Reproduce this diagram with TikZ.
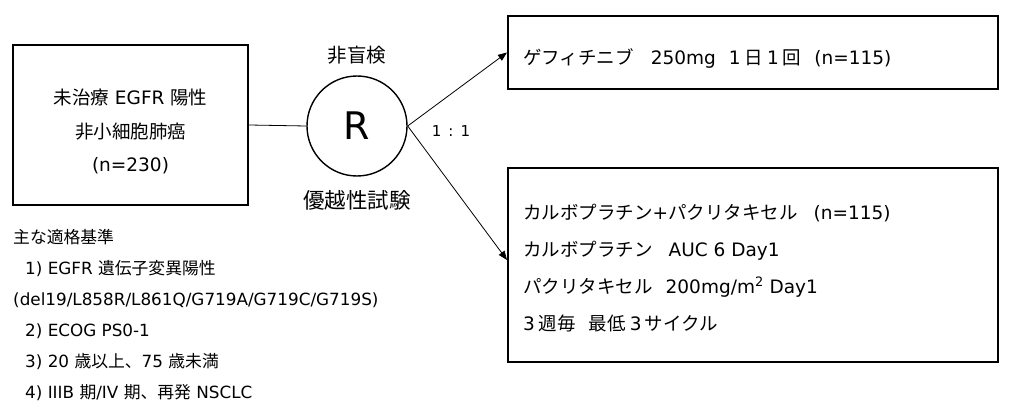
\documentclass[tikz,border=0pt]{standalone}
\usepackage{fontspec}
\setmainfont{DejaVu Sans}
\newfontfamily\jp{Noto Sans CJK JP}
\newcommand\J[1]{{\jp #1}}
\usetikzlibrary{arrows.meta}
\begin{document}
\begin{tikzpicture}[x=1pt,y=-1pt,
  box/.style={draw, line width=2pt, inner sep=0pt},
  txt/.style={inner sep=0pt, anchor=west, font=\fontsize{18.5}{20}\selectfont},
  crit/.style={inner sep=0pt, anchor=west, font=\fontsize{16.8}{18}\selectfont},
  conn/.style={line width=0.8pt},
  arr/.style={line width=0.8pt, -{Triangle[length=9pt,width=7pt]}}]
\useasboundingbox[fill=white] (0,0) rectangle (1020,417);
% left population box
\node[box, minimum width=235pt, minimum height=160pt] (pop) at (130.5,125) {};
\node[inner sep=0pt, align=center, font=\fontsize{18.5}{33.5}\selectfont] (poptxt) at (130.5,131.5)
  {\J{未治療} EGFR \J{陽性}\\ \J{非小細胞肺癌}\\ (n=230)};
% randomisation
\node[draw, circle, line width=1.4pt, minimum size=100pt, inner sep=0pt, font=\fontsize{38}{40}\selectfont] (R) at (357,126) {R};
\node[inner sep=0pt, font=\fontsize{19.5}{22}\selectfont] (blind) at (357,55) {\J{非盲検}};
\node[inner sep=0pt, font=\fontsize{21.5}{22}\selectfont] (sup) at (357,200) {\J{優越性試験}};
\node[inner sep=0pt, font=\fontsize{15}{16}\selectfont] (ratio) at (451,131) {1\hspace{7pt}:\hspace{7pt}1};
% arms
\node[box, minimum width=490pt, minimum height=73pt] (g) at (753,52.5) {};
\node[txt] (gtxt) at (523,58) {\J{ゲフィチニブ}\hspace{17pt}250mg\hspace{13pt}1\hspace{4pt}\J{日}\hspace{4pt}1\hspace{4pt}\J{回}\hspace{13pt}(n=115)};
\node[box, minimum width=490pt, minimum height=194pt] (c) at (753,265) {};
\node[txt] (c1) at (523,213) {\J{カルボプラチン}+\J{パクリタキセル}\hspace{16pt}(n=115)};
\node[txt] (c2) at (523,251) {\J{カルボプラチン}\hspace{16pt}AUC 6 Day1};
\node[txt] (c3) at (523,287) {\J{パクリタキセル}\hspace{13pt}200mg/m\textsuperscript{2} Day1};
\node[txt] (c4) at (523,323) {3\hspace{4pt}\J{週毎}\hspace{13pt}\J{最低}\hspace{4pt}3\hspace{3pt}\J{サイクル}};
% connectors
\draw[conn] (pop.east) -- (R.west);
\draw[arr] (R.east) -- (g.west);
\draw[arr] (R.east) -- (c.west |- 0,260);
% criteria
\node[crit] (k0) at (13,237) {\J{主な適格基準}};
\node[crit] (k1) at (25,269) {1) EGFR \J{遺伝子変異陽性}};
\node[crit] (k2) at (13,300) {(del19/L858R/L861Q/G719A/G719C/G719S)};
\node[crit] (k3) at (25,331) {2) ECOG PS0-1};
\node[crit] (k4) at (25,362) {3) 20 \J{歳以上、}75 \J{歳未満}};
\node[crit] (k5) at (25,393) {4) IIIB \J{期}/IV \J{期、再発} NSCLC};
\end{tikzpicture}
\end{document}
